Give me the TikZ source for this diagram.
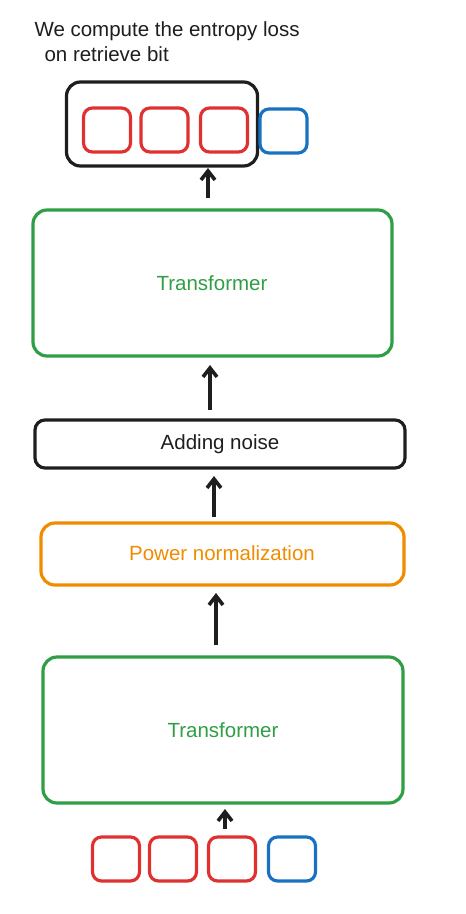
\documentclass[tikz,border=0pt]{standalone}
\usepackage{fontspec}
\setmainfont{Liberation Sans}
\usetikzlibrary{arrows.meta}
\definecolor{exred}{HTML}{E03131}
\definecolor{exblue}{HTML}{1971C2}
\definecolor{exgreen}{HTML}{2F9E44}
\definecolor{exorange}{HTML}{F08C00}
\definecolor{exblack}{HTML}{1E1E1E}
\tikzset{
  tok/.style={draw=#1, line width=3.2pt, rounded corners=9pt, minimum width=47pt, minimum height=44pt, inner sep=0pt},
  bigbox/.style={draw=#1, line width=3.2pt, rounded corners=14pt, inner sep=0pt},
  lbl/.style={font=\fontsize{20.5}{24}\selectfont},
  arr/.style={draw=exblack, line width=3.6pt, -{Straight Barb[length=9pt,width=14pt]}},
}
\begin{document}
\begin{tikzpicture}[x=1pt,y=-1pt]
\useasboundingbox (0,0) rectangle (466,914);
% caption
\node[lbl, anchor=west, text=exblack] (cap1) at (31,31) {We compute the entropy loss};
\node[lbl, anchor=west, text=exblack] (cap2) at (41,54) {on retrieve bit};
% top group
\node[draw=exblack, line width=3.2pt, rounded corners=14pt, minimum width=191pt, minimum height=84pt, inner sep=0pt] (grp) at (162,124) {};
\node[tok=exred] (t1) at (107,130) {};
\node[tok=exred] (t2) at (164.5,130) {};
\node[tok=exred] (t3) at (224,130) {};
\node[tok=exblue] (t4) at (283.5,131) {};
% top transformer
\node[bigbox=exgreen, minimum width=359pt, minimum height=146pt] (tr2) at (212.5,283) {};
\node[lbl, text=exgreen] (tr2l) at (212,283) {Transformer};
% adding noise
\node[bigbox=exblack, minimum width=370pt, minimum height=48pt, rounded corners=10pt] (noise) at (220,444) {};
\node[lbl, text=exblack] (noisel) at (220,444) {Adding noise};
% power normalization
\node[bigbox=exorange, minimum width=363pt, minimum height=62pt] (pow) at (222.5,554) {};
\node[lbl, text=exorange] (powl) at (222,553) {Power normalization};
% bottom transformer
\node[bigbox=exgreen, minimum width=360pt, minimum height=146pt] (tr1) at (223,730) {};
\node[lbl, text=exgreen] (tr1l) at (223,730) {Transformer};
% bottom tokens
\node[tok=exred] (b1) at (116,859) {};
\node[tok=exred] (b2) at (173,859) {};
\node[tok=exred] (b3) at (232,859) {};
\node[tok=exblue] (b4) at (292,859) {};
% arrows
\coordinate (a0s) at (225,829);
\coordinate (a0e) at (225,809);
\draw[arr] (a0s) -- (a0e);
\coordinate (a1s) at (216,645);
\coordinate (a1e) at (216,593);
\draw[arr] (a1s) -- (a1e);
\coordinate (a2s) at (214,517);
\coordinate (a2e) at (214,476);
\draw[arr] (a2s) -- (a2e);
\coordinate (a3s) at (210,410);
\coordinate (a3e) at (210,365);
\draw[arr] (a3s) -- (a3e);
\coordinate (a4s) at (208,198);
\coordinate (a4e) at (208,168);
\draw[arr] (a4s) -- (a4e);
\end{tikzpicture}
\end{document}
